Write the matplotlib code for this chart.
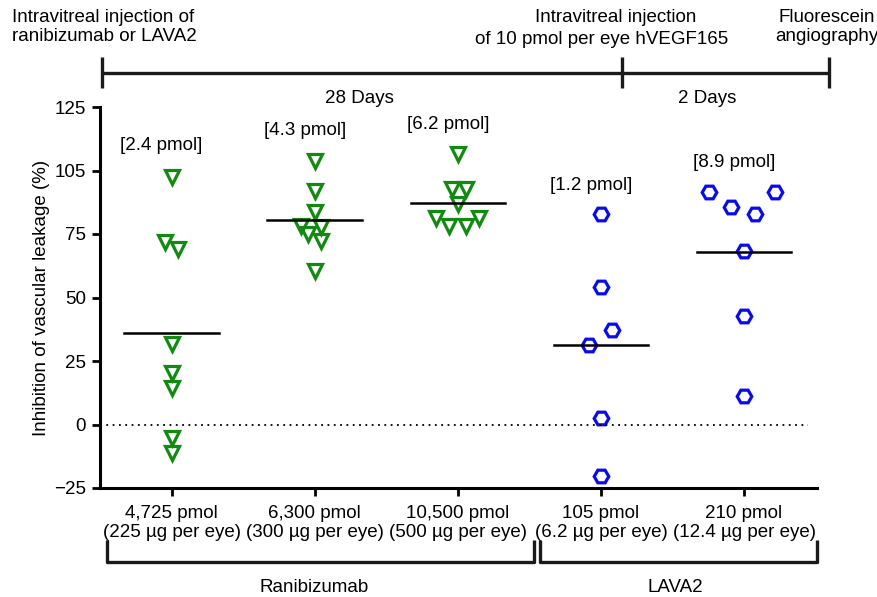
import numpy as np
import matplotlib
matplotlib.use('Agg')
import matplotlib.pyplot as plt
from matplotlib.lines import Line2D

plt.rcParams['font.family'] = ['Liberation Sans', 'DejaVu Sans']
plt.rcParams['font.size'] = 13.5

# tick labels for the five dose groups
dose_labels = ['4,725 pmol\n(225 \u00b5g per eye)', '6,300 pmol\n(300 \u00b5g per eye)',
               '10,500 pmol\n(500 \u00b5g per eye)', '105 pmol\n(6.2 \u00b5g per eye)',
               '210 pmol\n(12.4 \u00b5g per eye)']
vitreous_labels = ['[2.4 pmol]', '[4.3 pmol]', '[6.2 pmol]', '[1.2 pmol]', '[8.9 pmol]']

# inhibition of vascular leakage (%) per eye
rani_225 = [97.6, 71.7, 69.1, 31.6, 20.4, 14.5, -5.3, -11.2]
rani_300 = [103.6, 92.0, 83.6, 78.0, 77.6, 75.0, 72.4, 60.5]
rani_500 = [106.6, 92.8, 92.8, 87.0, 81.3, 81.3, 78.0, 78.0]
lava_6 = [82.9, 54.2, 37.1, 31.3, 2.6, -20.4]
lava_12 = [91.5, 91.5, 85.8, 82.9, 68.4, 42.8, 11.2]

# horizontal scatter of points within each group
jit_225 = [0, -0.047, 0.047, 0, 0, 0, 0, 0]
jit_300 = [0, 0, 0, -0.093, 0.042, -0.047, 0.042, 0]
jit_500 = [0, -0.04, 0.054, 0, -0.15, 0.15, -0.058, 0.058]
jit_6 = [0, 0, 0.079, -0.084, 0, 0]
jit_12 = [-0.245, 0.22, -0.093, 0.075, 0, 0, 0]

groups = [rani_225, rani_300, rani_500, lava_6, lava_12]
jitters = [jit_225, jit_300, jit_500, jit_6, jit_12]
label_y = [109.7, 115.7, 118.0, 94.0, 103.0]

W, H = 877, 597
fig = plt.figure(figsize=(W / 100, H / 100), dpi=100)
ax = fig.add_axes([100 / W, 1 - 488 / H, 717 / W, 381 / H])


def px(x, y):
    return x / W, 1 - y / H


green = '#128a12'
blue = '#0a0aee'

for i, (vals, jit) in enumerate(zip(groups, jitters)):
    xs = i + np.array(jit)
    if i < 3:
        ax.plot(xs, vals, 'v', ms=9.5, mfc='none', mec=green, mew=2.3, ls='none', clip_on=False)
    else:
        ax.plot(xs, vals, 'H', ms=10.5, mfc='none', mec=blue, mew=2.3, ls='none', clip_on=False)
    m = np.mean(vals)
    ax.plot([i - 0.33, i + 0.33], [m, m], color='black', lw=1.8)
    ax.text(i - 0.07, label_y[i], vitreous_labels[i], ha='center', va='center')

ax.plot([-0.5, 4.45], [0, 0], color='black', ls=(0, (1, 2.5)), lw=1.3)

ax.set_xlim(-0.5, 4.51)
ax.set_ylim(-25, 125)
ax.set_yticks([125, 100, 75, 50, 25, 0, -25])
ax.set_yticklabels(['125', '105', '75', '50', '25', '0', '\u221225'])
ax.set_xticks(range(5))
ax.set_xticklabels(dose_labels, linespacing=1.15)
ax.set_ylabel('Inhibition of vascular leakage (%)', labelpad=3)
for s in ['top', 'right']:
    ax.spines[s].set_visible(False)
for s in ['left', 'bottom']:
    ax.spines[s].set_linewidth(2.2)
ax.tick_params(width=2, length=6, direction='out', pad=6)
ax.tick_params(axis='y', pad=4)

# timeline across the top
def fline(xs, ys, lw=2.4):
    pts = [px(x, y) for x, y in zip(xs, ys)]
    fig.add_artist(Line2D([p[0] for p in pts], [p[1] for p in pts], color='#1a1a1a',
                          lw=lw, transform=fig.transFigure, solid_capstyle='butt'))

fline([102, 829], [73, 73])
for x in [102, 622, 829]:
    fline([x, x], [57, 88])

fig.text(*px(12, 9), 'Intravitreal injection of\nranibizumab or LAVA2', ha='left', va='top', linespacing=1.15)
fig.text(*px(616, 9), 'Intravitreal injection', ha='center', va='top')
fig.text(*px(602, 31), 'of 10 pmol per eye hVEGF165', ha='center', va='top')
fig.text(*px(827, 9), 'Fluorescein\nangiography', ha='center', va='top', linespacing=1.15)
fig.text(*px(359, 99), '28 Days', ha='center', va='center')
fig.text(*px(707, 99), '2 Days', ha='center', va='center')

# brackets under the tick labels
fline([107, 107, 534, 534], [540, 562, 562, 540])
fline([540, 540, 817, 817], [540, 562, 562, 540])
fig.text(*px(314, 588), 'Ranibizumab', ha='center', va='center')
fig.text(*px(675, 588), 'LAVA2', ha='center', va='center')

fig.savefig('out.png', dpi=100)
